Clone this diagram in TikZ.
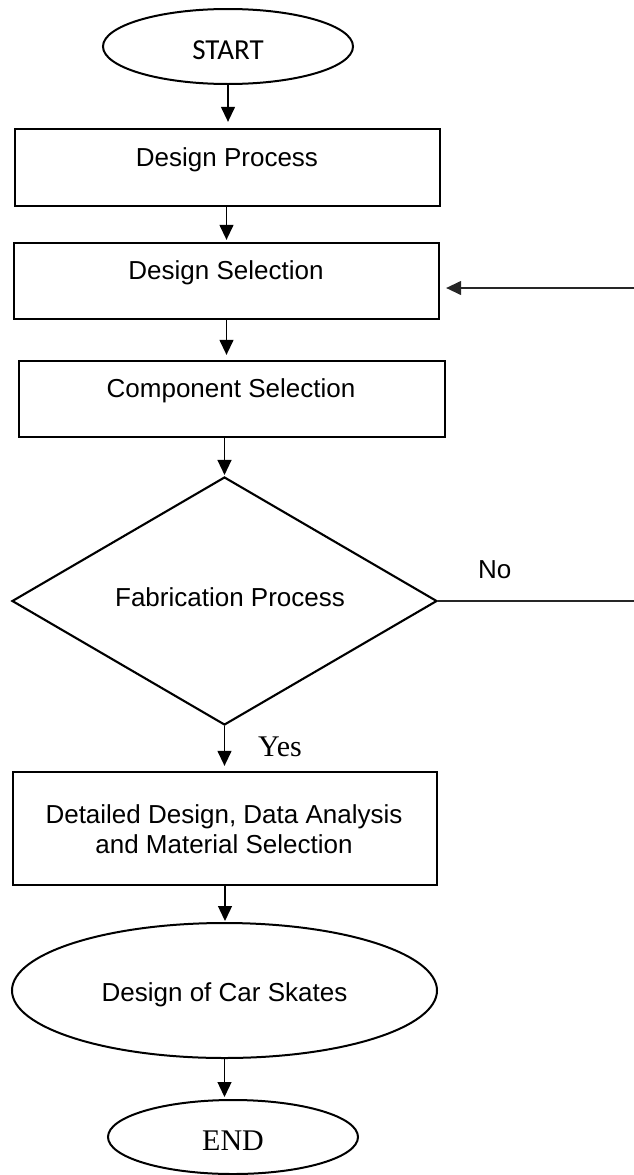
\documentclass[tikz,border=0pt]{standalone}
\usepackage{fontspec}
\setmainfont{Liberation Sans}
\newfontfamily\carlitofont{Carlito}
\newfontfamily\serifrm{Liberation Serif}
\usetikzlibrary{shapes.geometric,arrows.meta}
\begin{document}
\begin{tikzpicture}[x=1pt,y=-1pt,
  box/.style={draw,line width=2.3pt,rectangle,inner sep=0pt},
  oval/.style={draw,line width=2pt,ellipse,inner sep=0pt},
  dec/.style={draw,line width=2.1pt,diamond,inner sep=0pt},
  lbl/.style={font=\fontsize{26}{30}\selectfont,anchor=base,inner sep=0pt},
  serlbl/.style={font=\serifrm\fontsize{30}{34}\selectfont,anchor=base,inner sep=0pt},
  arr/.style={line width=1.3pt,-{Triangle[length=15pt,width=14pt]}},
  plain/.style={line width=1.4pt},
]
\useasboundingbox (0,0) rectangle (634,1175);

\node[oval,minimum width=250pt,minimum height=75pt] (start) at (228,46.5) {};
\node[lbl,font=\carlitofont\fontsize{29}{33}\selectfont] (startT) at (228,59) {START};

\node[box,minimum width=425pt,minimum height=77pt] (dp) at (227.5,167.5) {};
\node[lbl] (dpT) at (227,166) {Design Process};

\node[box,minimum width=425pt,minimum height=76pt] (ds) at (226.5,281) {};
\node[lbl] (dsT) at (226,279) {Design Selection};

\node[box,minimum width=426pt,minimum height=76pt] (cs) at (232,399) {};
\node[lbl] (csT) at (231,397) {Component Selection};

\node[dec,minimum width=425pt,minimum height=248pt] (fab) at (224.5,601) {};
\node[lbl] (fabT) at (230,606) {Fabrication Process};

\node[box,minimum width=424pt,minimum height=113pt] (det) at (225,828.5) {};
\node[lbl] (detT1) at (224,823) {Detailed Design, Data Analysis};
\node[lbl] (detT2) at (224,853) {and Material Selection};

\node[oval,minimum width=425pt,minimum height=135pt] (car) at (224.5,990.5) {};
\node[lbl] (carT) at (224.5,1001) {Design of Car Skates};

\node[oval,minimum width=250pt,minimum height=74pt] (endN) at (233,1137) {};
\node[serlbl] (endT) at (233,1150) {END};

\node[lbl,anchor=base west] (no) at (478,578) {No};
\node[serlbl,anchor=base west] (yes) at (258,756) {Yes};

\draw[arr,shorten >=6pt] (start.south) -- (start.south |- dp.north);
\draw[arr,shorten >=2pt] (ds.north |- dp.south) -- (ds.north);
\draw[arr,shorten >=5pt] (ds.south) -- (ds.south |- cs.north);
\draw[arr,shorten >=1pt] (fab.north |- cs.south) -- (fab.north);
\draw[arr,shorten >=5pt] (fab.south) -- (fab.south |- det.north);
\draw[arr,shorten >=1pt] (det.south) -- (det.south |- car.north);
\draw[arr,shorten >=2pt] (car.south) -- (car.south |- endN.north);

\coordinate (noR) at (634,601);
\draw[plain,black!85] (fab.east) -- (noR);
\coordinate (fbR) at (634,288);
\draw[arr,black!85,shorten >=6pt] (fbR) -- (fbR -| ds.east);
\end{tikzpicture}
\end{document}
